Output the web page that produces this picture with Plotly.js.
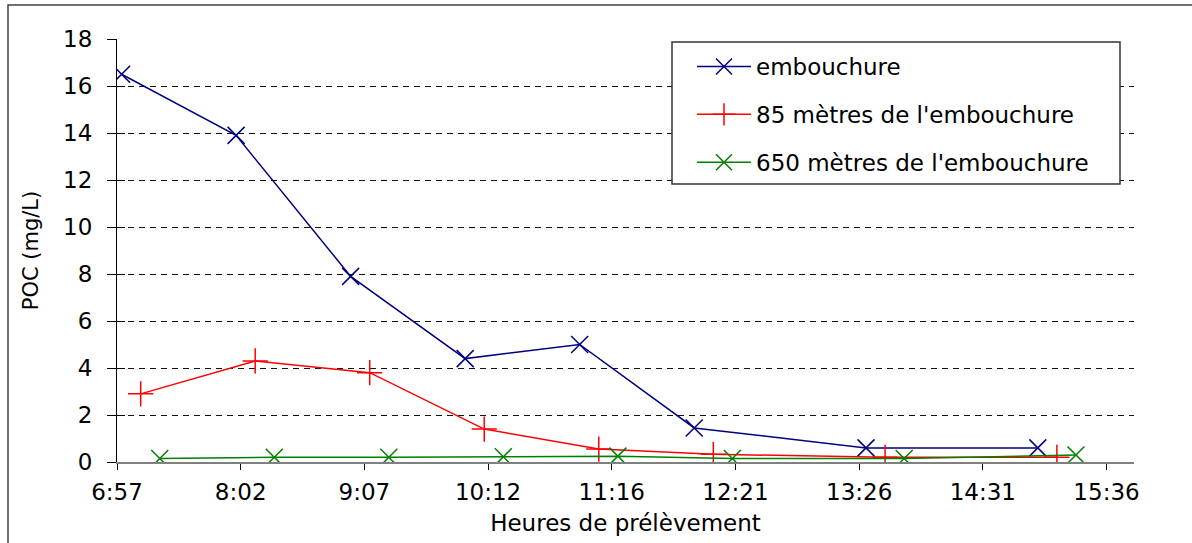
<!DOCTYPE html>
<html>
<head>
<meta charset="utf-8">
<script src="https://cdn.plot.ly/plotly-3.0.1.min.js"></script>
<style>
  html, body { margin: 0; padding: 0; background: #fff; }
  #chart { width: 1192px; height: 543px; }
</style>
</head>
<body>
<div id="chart"></div>
<script>
// ---- data ----
const seriesNames = ["embouchure", "85 mètres de l'embouchure", "650 mètres de l'embouchure"];

const embouchureTimes = ["7:00", "8:00", "9:00", "10:00", "11:00", "12:00", "13:30", "15:00"];
const embouchureValues = [16.5, 13.9, 7.9, 4.4, 5.0, 1.45, 0.6, 0.6];

const m85Times = ["7:10", "8:10", "9:10", "10:10", "11:10", "12:10", "13:40", "15:10"];
const m85Values = [2.9, 4.3, 3.8, 1.4, 0.55, 0.33, 0.2, 0.2];

const m650Times = ["7:20", "8:20", "9:20", "10:20", "11:20", "12:20", "13:50", "15:20"];
const m650Values = [0.15, 0.2, 0.2, 0.22, 0.25, 0.15, 0.15, 0.3];

const xTickLabels = ["6:57", "8:02", "9:07", "10:12", "11:16", "12:21", "13:26", "14:31", "15:36"];

// axis in fractions of a day, as in the spreadsheet
const axisMinDay = 0.29, axisMaxDay = 0.66, axisStepDay = 0.045;

function toMinutes(t) {
  const p = t.split(":");
  return parseInt(p[0], 10) * 60 + parseInt(p[1], 10);
}
const tickVals = xTickLabels.map((_, i) => (axisMinDay + axisStepDay * i) * 1440);

const FONT = "DejaVu Sans, Liberation Sans, Arial, sans-serif";

const traces = [
  {
    x: embouchureTimes.map(toMinutes), y: embouchureValues, name: seriesNames[0],
    type: "scatter", mode: "lines+markers", legendgroup: "a",
    line: { color: "#000080", width: 1.5 },
    marker: { symbol: "x-thin-open", size: 17, color: "#000080", line: { color: "#000080", width: 1.5 } }
  },
  {
    x: m85Times.map(toMinutes), y: m85Values, name: seriesNames[1],
    type: "scatter", mode: "lines+markers", legendgroup: "b",
    line: { color: "#FF0000", width: 1.5 },
    marker: { symbol: "cross-thin-open", size: 18, color: "#FF0000", line: { color: "#FF0000", width: 1.5 } }
  },
  {
    x: m650Times.map(toMinutes), y: m650Values, name: seriesNames[2],
    type: "scatter", mode: "lines+markers", legendgroup: "c",
    line: { color: "#008000", width: 1.5 },
    marker: { symbol: "x-thin-open", size: 17, color: "#008000", line: { color: "#008000", width: 1.5 } }
  },
  { // carrier for the inner tick marks of the value axis
    x: [axisMinDay * 1440], y: [0], yaxis: "y2", type: "scatter", mode: "markers",
    marker: { opacity: 0 }, showlegend: false, hoverinfo: "skip"
  }
];

const L = 117, R = 1192 - 1134, T = 39, B = 543 - 462;
const plotW = 1192 - L - R, plotH = 543 - T - B;
const px = v => (v - L) / plotW;
const py = v => (543 - B - v) / plotH;

const layout = {
  width: 1192, height: 543,
  margin: { l: L, r: R, t: T, b: B, pad: 0 },
  paper_bgcolor: "#ffffff", plot_bgcolor: "#ffffff",
  font: { family: FONT, size: 23, color: "#000000" },
  showlegend: true,
  legend: {
    x: px(692), y: py(45), xanchor: "left", yanchor: "top",
    bgcolor: "rgba(0,0,0,0)", borderwidth: 0,
    font: { family: FONT, size: 23, color: "#000000" },
    tracegroupgap: 15, itemwidth: 54, traceorder: "grouped"
  },
  xaxis: {
    range: [axisMinDay * 1440, axisMaxDay * 1440],
    tickvals: tickVals, ticktext: xTickLabels,
    ticks: "outside", ticklen: 6, tickcolor: "#000000", tickwidth: 1,
    showline: true, linecolor: "#808080", linewidth: 2,
    showgrid: false, zeroline: false,
    ticklabelstandoff: 2,
    tickfont: { family: FONT, size: 23, color: "#000000" },
    title: { text: "Heures de prélèvement", font: { family: FONT, size: 23, color: "#000000" }, standoff: 11 },
    automargin: false, fixedrange: true
  },
  yaxis: {
    range: [0, 18], tick0: 0, dtick: 2,
    ticks: "outside", ticklen: 9, tickcolor: "#000000", tickwidth: 1,
    showline: true, linecolor: "#000000", linewidth: 1,
    showgrid: true, gridcolor: "#111111", gridwidth: 1, griddash: "6px,5px",
    zeroline: false,
    ticklabelstandoff: 10,
    tickfont: { family: FONT, size: 23, color: "#000000" },
    title: { text: "POC (mg/L)", font: { family: FONT, size: 21, color: "#000000" }, standoff: 18 },
    automargin: false, fixedrange: true
  },
  yaxis2: {
    overlaying: "y", side: "left", range: [0, 18], tick0: 0, dtick: 2,
    ticks: "inside", ticklen: 8, tickcolor: "#000000", tickwidth: 1,
    showticklabels: false, showgrid: false, showline: false, zeroline: false,
    fixedrange: true
  },
  shapes: [
    { // legend box
      type: "rect", xref: "paper", yref: "paper",
      x0: px(672), x1: px(1120), y0: py(184), y1: py(42),
      fillcolor: "#ffffff", line: { color: "#333333", width: 1.5 }, layer: "above"
    },
    { // outer chart frame (left and top edges visible)
      type: "path", xref: "paper", yref: "paper",
      path: "M " + px(8) + " " + py(560) + " L " + px(8) + " " + py(5) + " L " + px(1210) + " " + py(5),
      line: { color: "#404040", width: 1.5 }, layer: "above"
    }
  ]
};

Plotly.newPlot("chart", traces, layout, { staticPlot: true, displayModeBar: false });
</script>
</body>
</html>
